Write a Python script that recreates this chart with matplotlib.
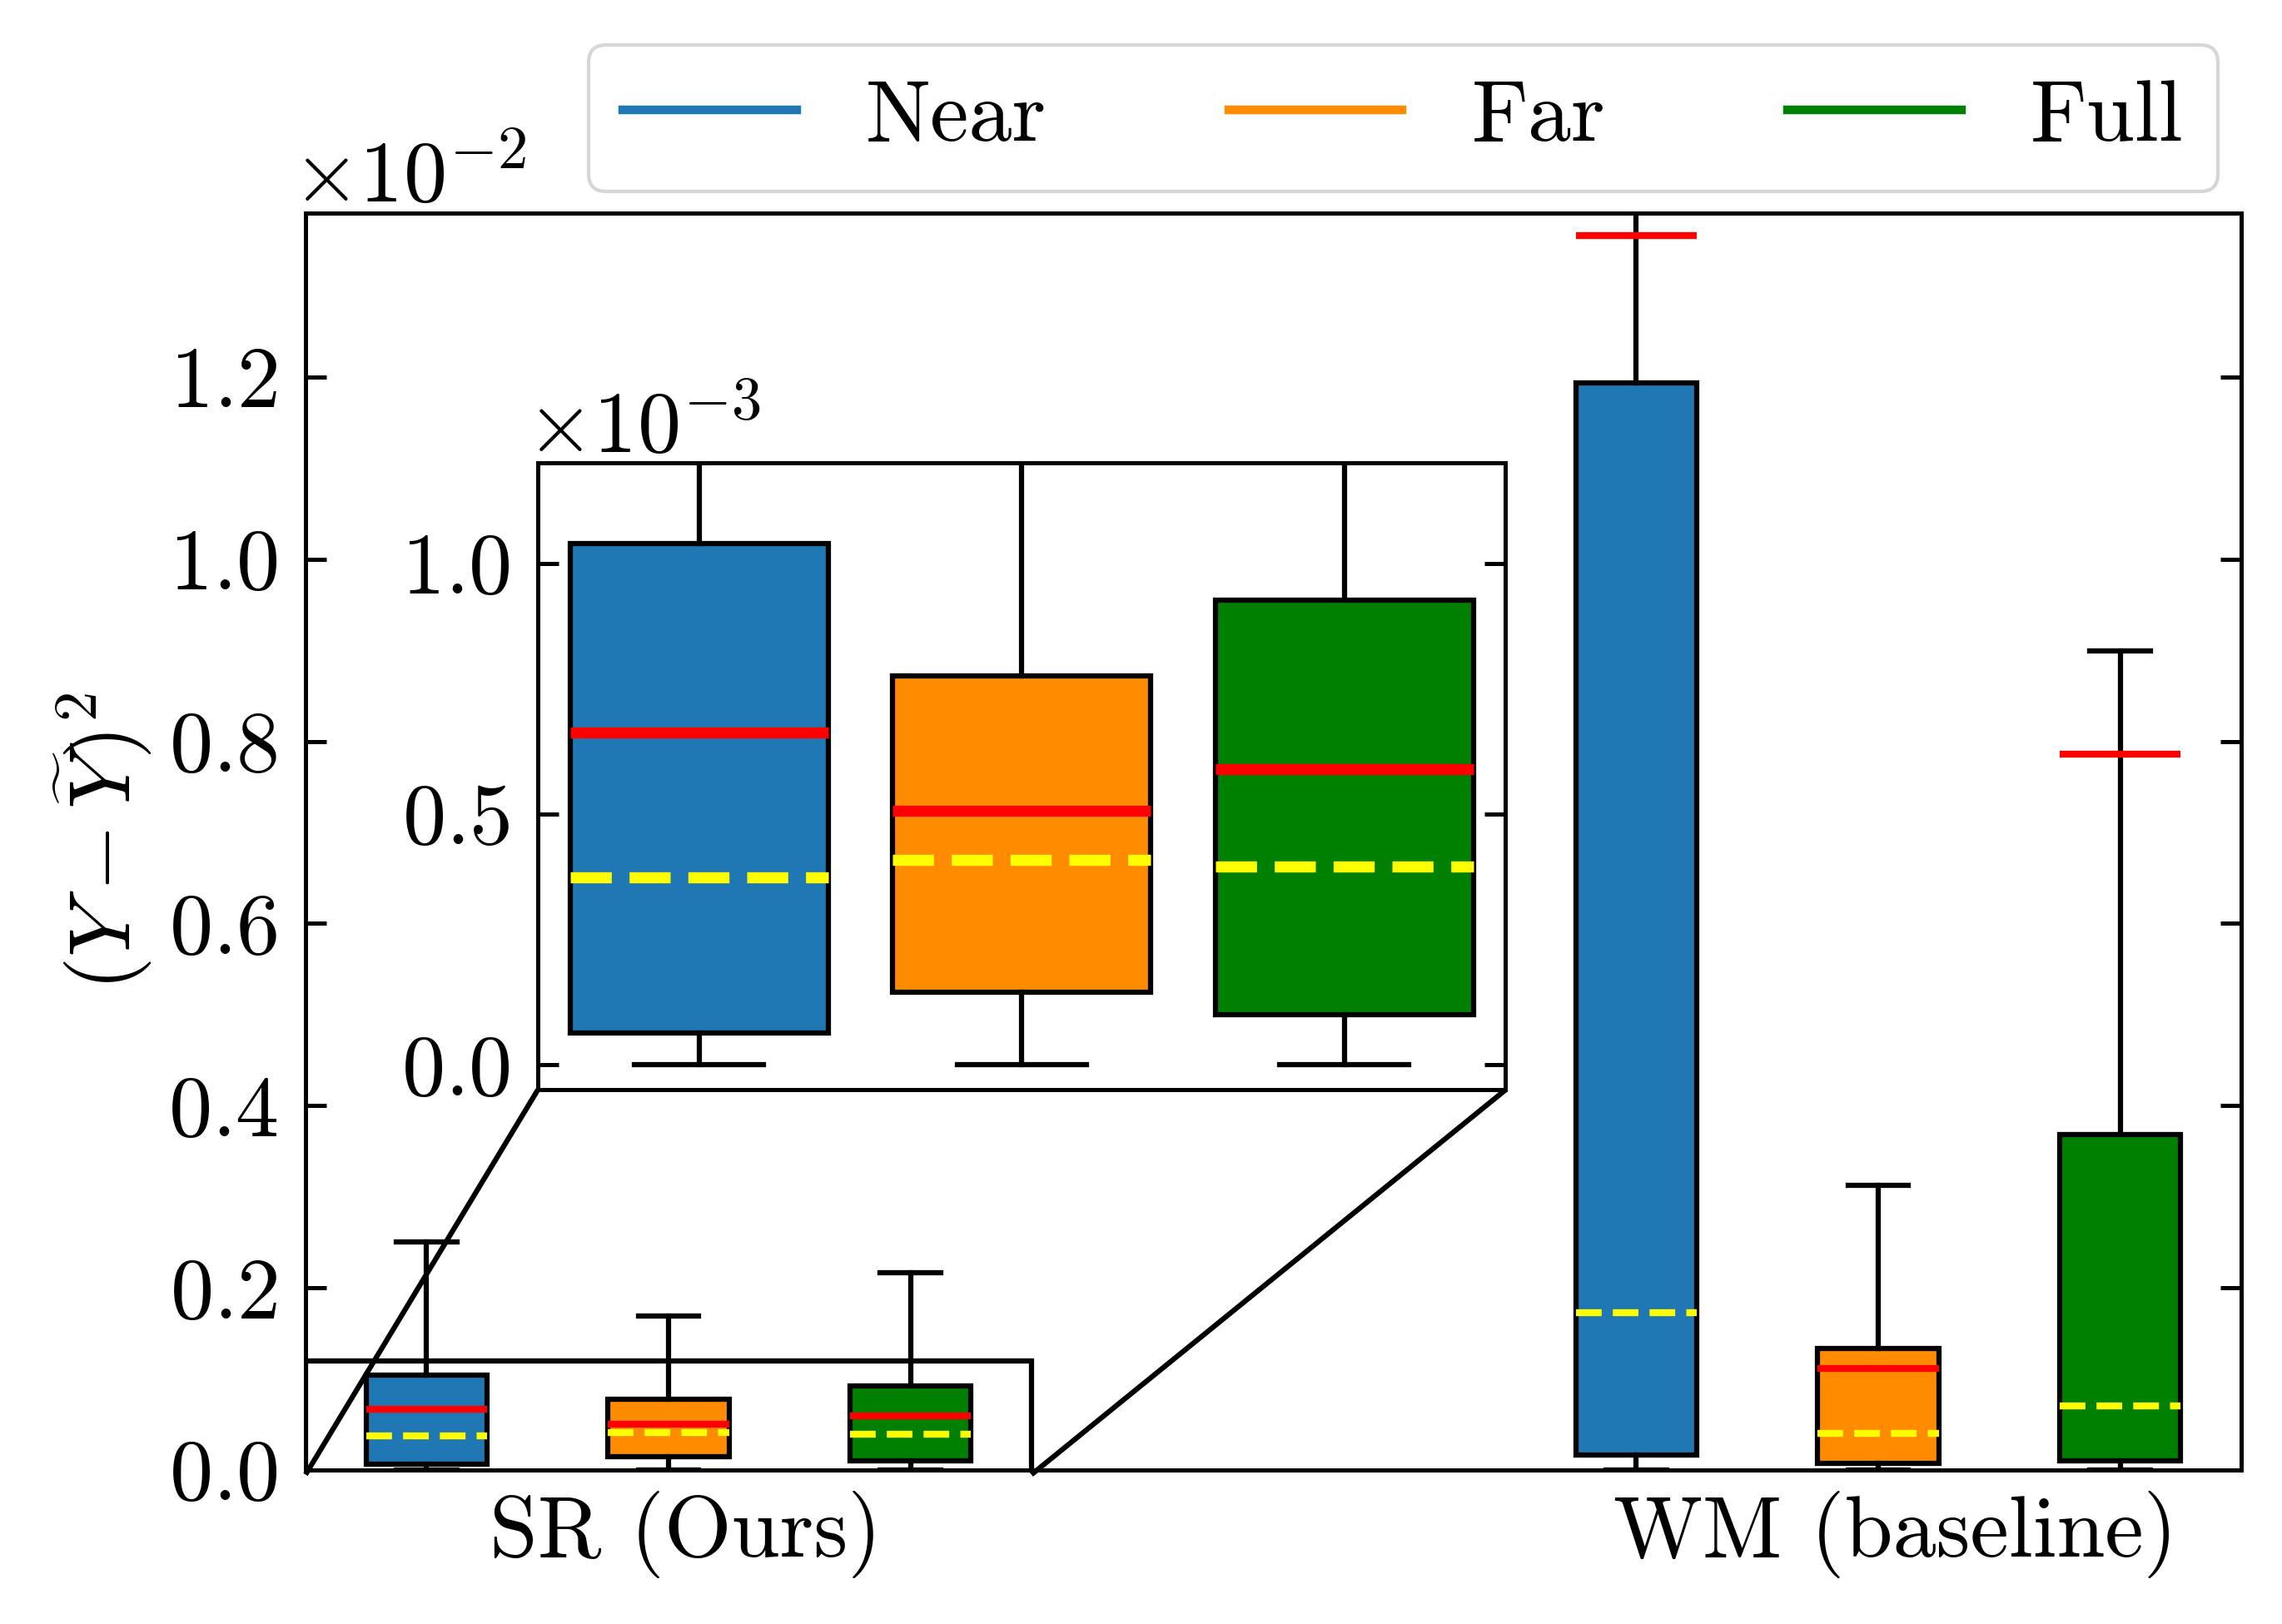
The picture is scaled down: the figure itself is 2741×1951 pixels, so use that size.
import matplotlib
matplotlib.use('Agg')
import matplotlib.pyplot as plt
import matplotlib.transforms as mtransforms
from matplotlib.lines import Line2D
from matplotlib.ticker import MultipleLocator
from mpl_toolkits.axes_grid1.inset_locator import mark_inset

plt.rcParams.update({
    'font.family': 'serif',
    'font.serif': ['cmr10'],
    'mathtext.fontset': 'cm',
    'axes.formatter.use_mathtext': True,
    'axes.unicode_minus': False,
    'font.size': 25,
})

# ---------------- data (values in units of 1e-3) ----------------
methods = ['SR (Ours)', 'WM (baseline)']
ranges = ['Near', 'Far', 'Full']
colors = ['#1f77b4', '#ff8c00', '#008000']

sr_q1 = [0.064, 0.145, 0.099]
sr_q3 = [1.040, 0.775, 0.927]
sr_med = [0.373, 0.408, 0.396]
sr_mean = [0.663, 0.506, 0.590]
sr_whislo = [0.0, 0.0, 0.0]
sr_whishi = [2.50, 1.69, 2.17]

wm_q1 = [0.165, 0.073, 0.104]
wm_q3 = [11.94, 1.337, 3.68]
wm_med = [1.73, 0.403, 0.705]
wm_mean = [13.55, 1.117, 7.86]
wm_whislo = [0.0, 0.0, 0.0]
wm_whishi = [15.5, 3.13, 8.99]

scale = 1e-3


def make_stats(q1, q3, med, mean, lo, hi):
    return [dict(q1=a * scale, q3=b * scale, med=c * scale, mean=d * scale,
                 whislo=e * scale, whishi=f * scale, fliers=[])
            for a, b, c, d, e, f in zip(q1, q3, med, mean, lo, hi)]


sr_stats = make_stats(sr_q1, sr_q3, sr_med, sr_mean, sr_whislo, sr_whishi)
wm_stats = make_stats(wm_q1, wm_q3, wm_med, wm_mean, wm_whislo, wm_whishi)

sr_pos = [1, 2, 3]
wm_pos = [6, 7, 8]

fig = plt.figure(figsize=(2741 / 300, 1951 / 300), dpi=300)
ax = fig.add_axes([0.1339, 0.0948, 0.8482, 0.774])


def draw(axis, stats, pos, width, lw_line, lw_box):
    bp = axis.bxp(stats, positions=pos, widths=width, patch_artist=True,
                  showmeans=True, meanline=True, showfliers=False,
                  meanprops=dict(color='red', linestyle='-', linewidth=lw_line),
                  medianprops=dict(color='yellow', linestyle='--', linewidth=lw_line),
                  boxprops=dict(edgecolor='black', linewidth=lw_box),
                  whiskerprops=dict(color='black', linewidth=lw_box),
                  capprops=dict(color='black', linewidth=lw_box))
    for patch, c in zip(bp['boxes'], colors):
        patch.set_facecolor(c)
    return bp


draw(ax, sr_stats, sr_pos, 0.5, 2.0, 1.5)
draw(ax, wm_stats, wm_pos, 0.5, 2.0, 1.5)

ax.set_xlim(0.5, 8.5)
ax.set_ylim(0, 0.0138)
ax.yaxis.set_major_locator(MultipleLocator(0.002))
ax.ticklabel_format(style='sci', axis='y', scilimits=(0, 0), useMathText=True)
ax.set_xticks([sr_pos[1], wm_pos[1]])
ax.set_xticklabels(methods)
ax.tick_params(axis='x', length=0, pad=6)
ax.tick_params(axis='y', direction='in', right=True, length=6, width=1.2, pad=8)
shift = mtransforms.ScaledTranslation(5 / 72, 0, fig.dpi_scale_trans)
for lab in ax.get_xticklabels():
    lab.set_transform(lab.get_transform() + shift)
for s in ax.spines.values():
    s.set_linewidth(1.2)
ax.set_ylabel(r'$(Y-\widetilde{Y})^2$')
ax.yaxis.get_offset_text().set_x(-0.007)

# ---------------- inset ----------------
axins = ax.inset_axes([0.12, 0.3025, 0.5, 0.4987])
draw(axins, sr_stats, [1, 2, 3], 0.8, 3.2, 1.5)
axins.set_xlim(0.5, 3.5)
axins.set_ylim(-0.05e-3, 1.2e-3)
axins.yaxis.set_major_locator(MultipleLocator(0.5e-3))
axins.ticklabel_format(style='sci', axis='y', scilimits=(0, 0), useMathText=True)
axins.set_xticks([])
axins.tick_params(axis='y', direction='in', right=True, length=6, width=1.2, pad=8)
for s in axins.spines.values():
    s.set_linewidth(1.2)
axins.yaxis.get_offset_text().set_x(-0.012)

mark_inset(ax, axins, loc1=3, loc2=4, fc='none', ec='black', lw=1.5)

# ---------------- legend ----------------
handles = [Line2D([], [], color=c, lw=2.5) for c in colors]
ax.legend(handles, ranges, ncol=3, loc='lower right',
          bbox_to_anchor=(0.988, 1.017), borderaxespad=0, fontsize=25,
          columnspacing=2.1)

fig.savefig('out.png', dpi=300)
